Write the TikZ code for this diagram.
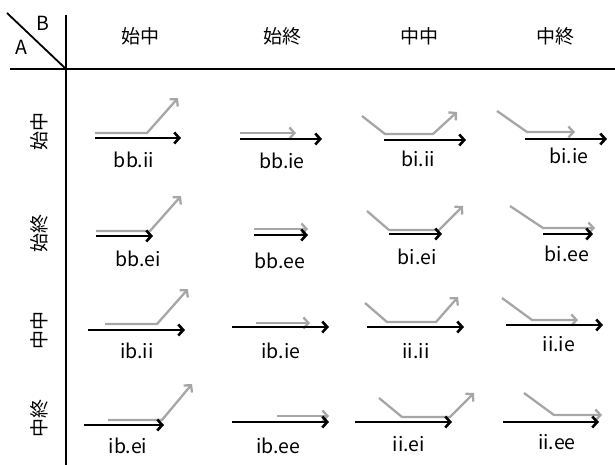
\documentclass[tikz,border=0pt]{standalone}
\usepackage{fontspec}
\setmainfont{Noto Sans CJK JP}
\usetikzlibrary{arrows.meta}
\begin{document}
\begin{tikzpicture}[x=1pt,y=-1pt,
  frame/.style={line width=1.8pt,draw=black},
  blk/.style={line width=2.6pt,draw=black,-{Straight Barb[length=5pt,width=11pt]}},
  gry/.style={line width=2.3pt,draw=black!35,-{Straight Barb[length=5pt,width=11pt]}},
  lbl/.style={font=\fontsize{19.5}{21}\selectfont,inner sep=0pt},
  hdr/.style={font=\fontsize{19}{21}\selectfont,inner sep=0pt}]
\useasboundingbox (0,0) rectangle (615,465);
% frame
\coordinate (d1) at (7,13);
\coordinate (o) at (66,69);
\coordinate (vt) at (66,15);
\coordinate (vb) at (66,465);
\coordinate (hl) at (10,69);
\coordinate (hr) at (615,69);
\draw[frame] (d1) -- (o);
\draw[frame] (vt) -- (vb);
\draw[frame] (hl) -- (hr);
\node[lbl] (B) at (43,23) {B};
\node[lbl] (A) at (21,47) {A};
% headers
\node[hdr] (h1) at (140,36) {始中};
\node[hdr] (h2) at (282,36) {始終};
\node[hdr] (h3) at (419,36) {中中};
\node[hdr] (h4) at (555,36) {中終};
% row labels
\node[hdr,rotate=90] (r1) at (39,132) {始中};
\node[hdr,rotate=90] (r2) at (39,233) {始終};
\node[hdr,rotate=90] (r3) at (39,330) {中中};
\node[hdr,rotate=90] (r4) at (39,418) {中終};
% row 1
\draw[gry] (95,133) -- (147,133) -- (178,98);
\draw[blk] (95,138) -- (181,138);
\node[lbl] (bbii) at (134,160) {bb.ii};
\draw[gry] (240,133) -- (296,133);
\draw[blk] (240,139) -- (322,139);
\node[lbl] (bbie) at (282,161) {bb.ie};
\draw[gry] (362,116) -- (385,134) -- (433,134) -- (457,112);
\draw[blk] (384,140) -- (466,140);
\node[lbl] (biii) at (418,159) {bi.ii};
\draw[gry] (497,111) -- (527,132) -- (575,132);
\draw[blk] (525,139) -- (607,139);
\node[lbl] (biie) at (569,156) {bi.ie};
% row 2
\draw[gry] (96,231) -- (150,231) -- (181,196);
\draw[blk] (96,236) -- (153,236);
\node[lbl] (bbei) at (138,259) {bb.ei};
\draw[gry] (254,229) -- (308,229);
\draw[blk] (254,235) -- (308,235);
\node[lbl] (bbee) at (280,261) {bb.ee};
\draw[gry] (367,211) -- (389,230) -- (439,230) -- (463,206);
\draw[blk] (389,234) -- (442,234);
\node[lbl] (biei) at (417,257) {bi.ei};
\draw[gry] (510,206) -- (543,228) -- (595,228);
\draw[blk] (543,234) -- (593,234);
\node[lbl] (biee) at (567,254) {bi.ee};
% row 3
\draw[gry] (105,324) -- (157,324) -- (188,289);
\draw[blk] (88,330) -- (185,330);
\node[lbl] (ibii) at (137,351) {ib.ii};
\draw[gry] (256,323) -- (310,323);
\draw[blk] (232,327) -- (329,327);
\node[lbl] (ibie) at (281,351) {ib.ie};
\draw[gry] (365,303) -- (387,322) -- (436,322) -- (458,297);
\draw[blk] (367,327) -- (464,327);
\node[lbl] (iiii) at (416,351) {ii.ii};
\draw[gry] (502,298) -- (532,320) -- (578,320);
\draw[blk] (506,325) -- (603,325);
\node[lbl] (iiie) at (559,344) {ii.ie};
% row 4
\draw[gry] (108,420) -- (162,420) -- (192,384);
\draw[blk] (84,425) -- (164,425);
\node[lbl] (ibei) at (128,446) {ib.ei};
\draw[gry] (277,416) -- (329,416);
\draw[blk] (232,422) -- (329,422);
\node[lbl] (ibee) at (278,446) {ib.ee};
\draw[gry] (379,398) -- (402,417) -- (450,417) -- (474,393);
\draw[blk] (355,422) -- (452,422);
\node[lbl] (iiei) at (409,444) {ii.ei};
\draw[gry] (524,393) -- (554,415) -- (602,415);
\draw[blk] (503,422) -- (599,422);
\node[lbl] (iiee) at (557,442) {ii.ee};
\end{tikzpicture}
\end{document}
